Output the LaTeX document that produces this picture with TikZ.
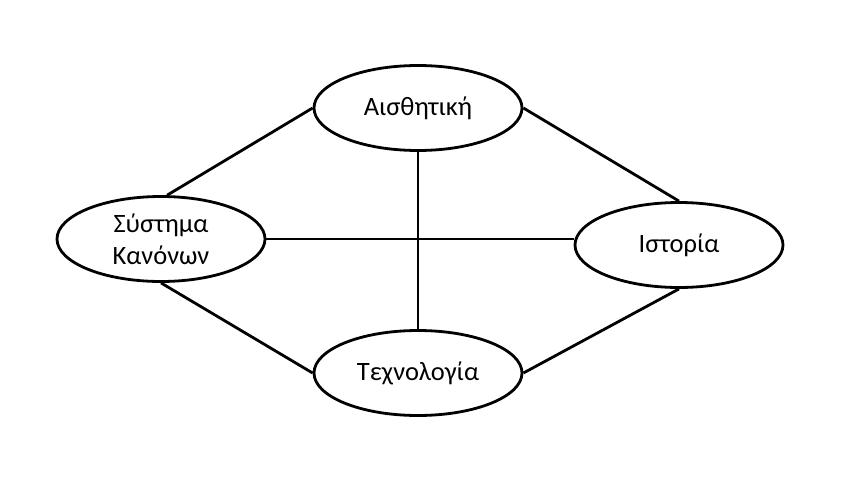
\documentclass[tikz,border=0pt]{standalone}
\usepackage{fontspec}
\setmainfont{Carlito}
\usetikzlibrary{shapes.geometric}
\begin{document}
\begin{tikzpicture}[x=1pt,y=-1pt,
  topic/.style={ellipse,draw,line width=2.8pt,minimum width=208pt,minimum height=85pt,inner sep=0pt,align=center,font=\fontsize{26.5}{32}\selectfont},
  link/.style={line width=2.8pt}]
\useasboundingbox[fill=white] (0,0) rectangle (861,503);
\node[topic] (a) at (418,108) {Αισθητική};
\node[topic] (s) at (161,239) {Σύστημα\\Κανόνων};
\node[topic] (i) at (679,245) {Ιστορία};
\node[topic] (t) at (418,373) {Τεχνολογία};
\draw[link] (a.west) -- (s.82);
\draw[link] (a.east) -- (i.north);
\draw[link] (a.south) -- (t.north);
\draw[link] (s.east) -- (s.east -| i.west);
\draw[link] (s.south) -- (t.west);
\draw[link] (t.east) -- (i.south);
\end{tikzpicture}
\end{document}
